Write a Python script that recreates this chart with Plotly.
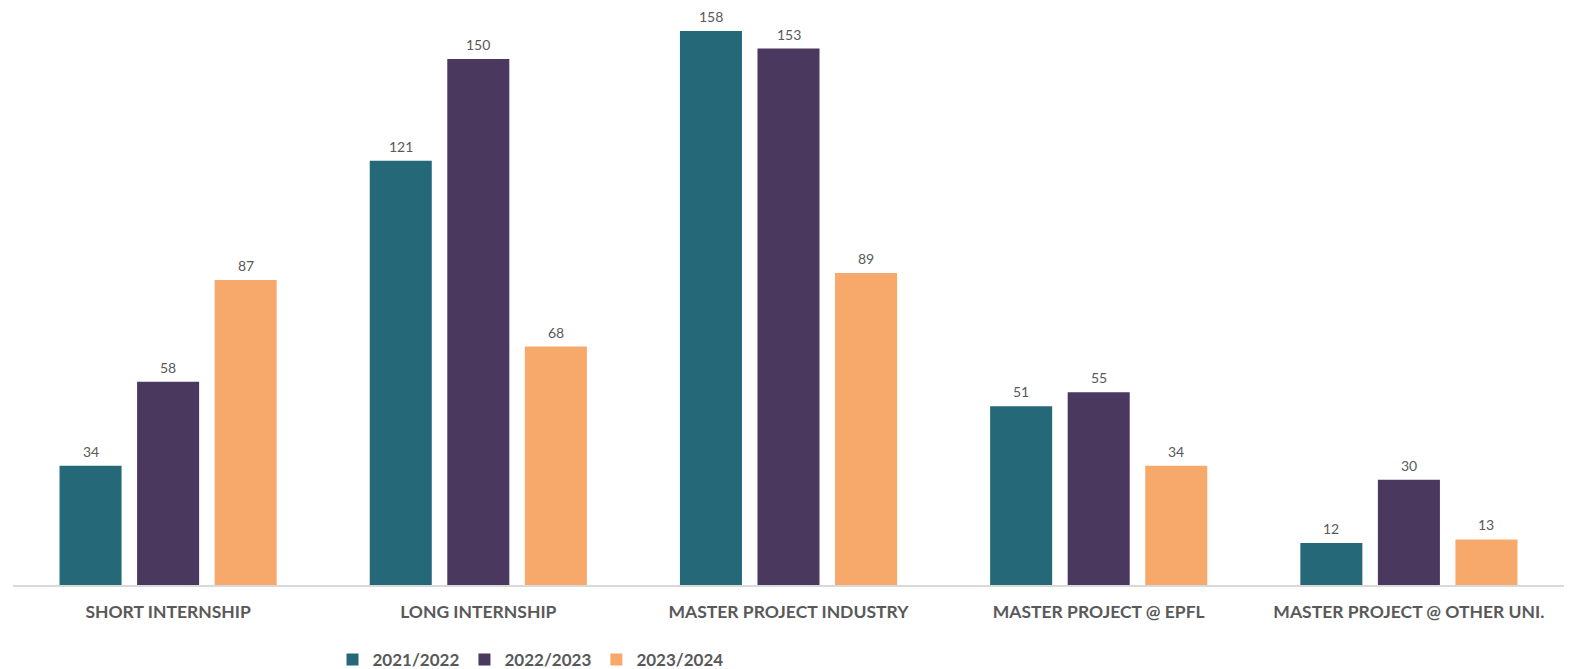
import plotly.graph_objects as go

categories = ["SHORT INTERNSHIP", "LONG INTERNSHIP", "MASTER PROJECT INDUSTRY",
              "MASTER PROJECT @ EPFL", "MASTER PROJECT @ OTHER UNI."]
series_names = ["2021/2022", "2022/2023", "2023/2024"]
values_2021 = [34, 121, 158, 51, 12]
values_2022 = [58, 150, 153, 55, 30]
values_2023 = [87, 68, 89, 34, 13]
colors = ["#256978", "#4B385F", "#F7A96B"]

BARGAP = 0.25
all_series = [values_2021, values_2022, values_2023]

fig = go.Figure()
for name, vals, col in zip(series_names, all_series, colors):
    fig.add_trace(go.Bar(
        x=categories, y=vals, name=name, marker=dict(color=col, line=dict(width=0)),
    ))

# value labels above each bar (positions from data, offset to the grouped bar slot)
slot = (1 - BARGAP) / len(all_series)
annotations = []
for j, vals in enumerate(all_series):
    for i, v in enumerate(vals):
        annotations.append(dict(
            x=i + (j - (len(all_series) - 1) / 2) * slot, y=v, xref="x", yref="y",
            text=str(v), showarrow=False, yanchor="bottom", yshift=4,
            font=dict(family="Lato", size=14, color="#595959"),
        ))

fig.update_layout(
    width=1566, height=661,
    margin=dict(l=5, r=10, t=2, b=84, autoexpand=False),
    paper_bgcolor="white", plot_bgcolor="white",
    barmode="group", bargap=BARGAP, bargroupgap=0.2,
    showlegend=True,
    legend=dict(orientation="h", x=0.206, xanchor="left", y=-0.1305, yanchor="middle",
                font=dict(family="Lato", size=17, color="#595959", weight="bold"),
                itemwidth=30, tracegroupgap=0),
    xaxis=dict(showline=True, linecolor="#D9D9D9", linewidth=1.5, ticks="",
               tickfont=dict(family="Lato", size=17.5, color="#595959", weight="bold"),
               ticklabelstandoff=10, automargin=False),
    yaxis=dict(range=[0, 164.0], visible=False, showgrid=False, automargin=False),
    annotations=annotations,
)

fig.write_html("out.html")
